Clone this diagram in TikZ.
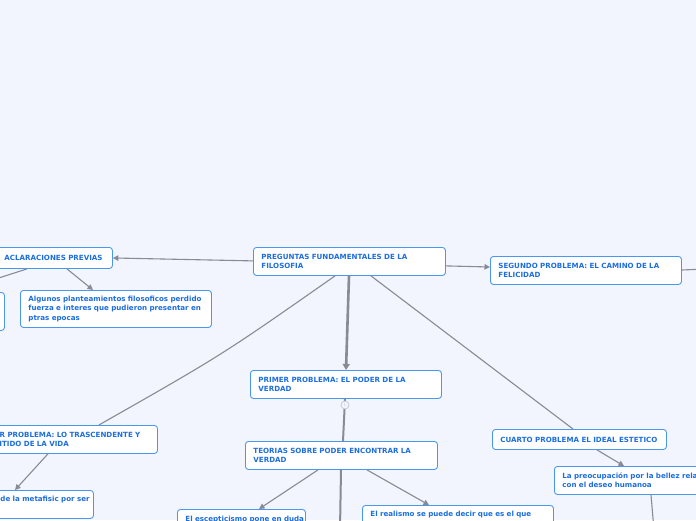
\documentclass[tikz,border=0pt]{standalone}
\usepackage{fontspec}
\setmainfont{DejaVu Sans}
\usetikzlibrary{arrows.meta,calc}
\definecolor{bg}{RGB}{242,245,253}
\definecolor{txtblue}{RGB}{28,110,222}
\definecolor{bordblue}{RGB}{72,152,240}
\definecolor{edgegray}{RGB}{136,138,150}
\definecolor{circgray}{RGB}{200,202,210}
\tikzset{
  box/.style={draw=bordblue, line width=0.9pt, fill=white, rounded corners=3pt,
    anchor=north west, inner xsep=8pt, inner ysep=0pt, align=left,
    font=\fontsize{7.1}{9.3}\selectfont\bfseries, text=txtblue},
  conn/.style={draw=edgegray, line width=1.1pt},
  arr/.style={conn, -{Triangle[length=5.5pt,width=5.5pt]}},
}
\begin{document}
\begin{tikzpicture}[x=1pt,y=-1pt]
\fill[bg] (0,0) rectangle (696,520);
\useasboundingbox (0,0) rectangle (696,520);
\clip (0,0) rectangle (696,520);

% nodes
\node[box, minimum width=116, text width=100, minimum height=21] (acl) at (-4,247) {ACLARACIONES PREVIAS};
\node[box, minimum width=64, minimum height=38] (leftcut) at (-60,292) {};
\node[box, minimum width=191, text width=175, minimum height=37] (alg) at (20,290) {Algunos planteamientos filosoficos perdido\\fuerza e interes que pudieron presentar en\\ptras epocas};
\node[box, minimum width=192, text width=176, minimum height=28] (preg) at (253,247) {PREGUNTAS FUNDAMENTALES DE LA\\FILOSOFIA};
\node[box, minimum width=191, text width=175, minimum height=28] (seg) at (490,256) {SEGUNDO PROBLEMA: EL CAMINO DE LA\\FELICIDAD};
\node[box, minimum width=191, text width=175, minimum height=28] (prim) at (250,370) {PRIMER PROBLEMA: EL PODER DE LA\\VERDAD};
\node[box, minimum width=192, text width=176, minimum height=28] (teo) at (245,441) {TEORIAS SOBRE PODER ENCONTRAR LA\\VERDAD};
\node[box, minimum width=191, text width=175, minimum height=28] (tercer) at (-34,425) {TERCER PROBLEMA: LO TRASCENDENTE Y\\EL SENTIDO DE LA VIDA};
\node[box, minimum width=101, text width=85, minimum height=28] (meta) at (-8,490) {\mbox{de la metafisic por ser}\\\strut};
\node[box, minimum width=174, text width=158, minimum height=20] (cuarto) at (492,429) {CUARTO PROBLEMA EL IDEAL ESTETICO};
\node[box, minimum width=191, text width=175, minimum height=28] (preo) at (554,466) {La preocupación por la bellez relacionada\\con el deseo humanoa};
\node[box, minimum width=128, text width=112, inner ysep=6.5pt] (esc) at (177,509) {\mbox{El escepticismo pone en duda}\\\strut\\\strut};
\node[box, minimum width=191, text width=175, inner ysep=6pt] (real) at (362,505) {El realismo se puede decir que es el que\\\strut\\\strut};

% free ends
\coordinate (lcend) at (-20,284);
\coordinate (segend) at (705,269);
\coordinate (teoend) at (340,530);
\coordinate (preoend) at (654,530);

% connectors
\draw[arr] ($(preg.south west)+(0,-15)$) -- (acl.east);
\draw[conn] ($(acl.south west)+(31,0)$) -- (lcend);
\draw[arr] ($(acl.south west)+(71,0)$) -- ($(alg.north west)+(73,0)$);
\draw[arr] ($(preg.south east)+(0,-10)$) -- ($(seg.north west)+(0,11)$);
\draw[conn] ($(seg.north east)+(0,14)$) -- (segend);
\draw[draw=edgegray, line width=2.6pt, -{Triangle[length=6pt,width=7pt]}] ($(preg.south west)+(96,0)$) -- ($(prim.north west)+(96,0)$);
\draw[conn] ($(preg.south west)+(82,0)$) .. controls (222,355) .. ($(tercer.north east)+(-59,0)$);
\draw[conn] ($(preg.south west)+(118,0)$) -- ($(cuarto.north west)+(81,0)$);
\draw[draw=edgegray, line width=2pt] ($(prim.south west)+(95,0)$) -- ($(teo.north west)+(98,0)$);
\draw[arr] ($(teo.south west)+(73,0)$) -- ($(esc.north west)+(82,0)$);
\draw[draw=edgegray, line width=2pt] ($(teo.south west)+(96,0)$) -- (teoend);
\draw[arr] ($(teo.south west)+(122,0)$) -- ($(real.north west)+(67,0)$);
\draw[arr] ($(cuarto.south west)+(105,0)$) -- ($(preo.north west)+(70,0)$);
\draw[conn] ($(preo.south west)+(97,0)$) -- (preoend);
\draw[arr] ($(tercer.south east)+(-110,0)$) -- ($(meta.north west)+(23,0)$);

% collapse marker
\node[circle, draw=circgray, line width=0.8pt, fill=bg, inner sep=0pt, minimum size=8pt,
  font=\fontsize{4}{4}\selectfont, text=circgray] (mark) at (345,405) {1};
\end{tikzpicture}
\end{document}
